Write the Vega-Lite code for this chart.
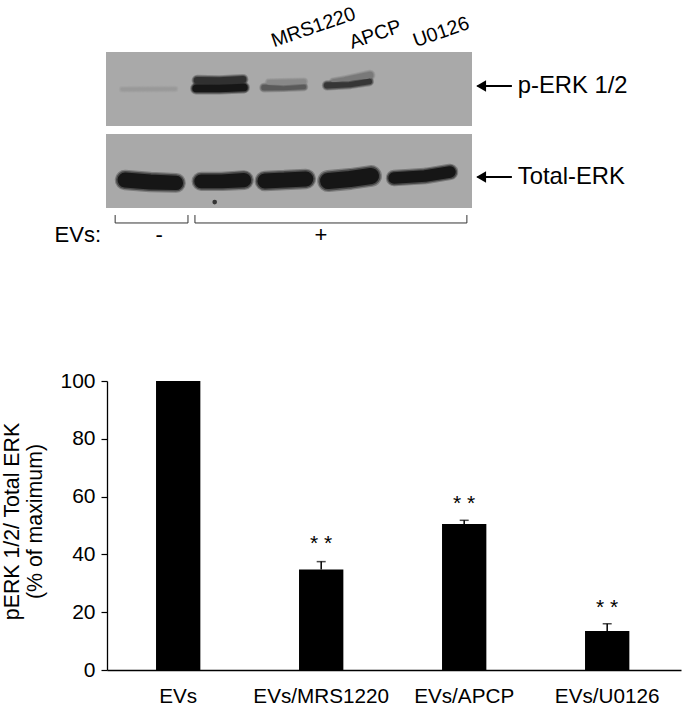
{
"$schema":"https://vega.github.io/schema/vega-lite/v6.json",
"width":683,"height":705,"padding":0,"autosize":{"type":"none"},"background":"white",
"config":{"view":{"stroke":null},"font":"Liberation Sans","text":{"font":"Liberation Sans"}},
"datasets":{
"panels":[{"blot":"p-ERK 1/2","x0":0,"x1":100,"y0":0,"y1":47.4},{"blot":"Total-ERK","x0":0,"x1":100,"y0":52.6,"y1":100}],
"bands":[
{"band":"a","x":4.4,"y":23.9,"thickness":2.5,"density":0.1},{"band":"a","x":18.9,"y":23.7,"thickness":2.5,"density":0.1},
{"band":"b1","x":24.9,"y":18.2,"thickness":6,"density":0.8},{"band":"b1","x":31,"y":18.4,"thickness":6,"density":0.8},{"band":"b1","x":37.4,"y":17.6,"thickness":6,"density":0.8},
{"band":"b2","x":24.6,"y":23.4,"thickness":6.5,"density":1},{"band":"b2","x":31,"y":23.4,"thickness":6.5,"density":1},{"band":"b2","x":37.7,"y":22.8,"thickness":6.5,"density":1},
{"band":"c1","x":44.5,"y":19.5,"thickness":4,"density":0.2},{"band":"c1","x":54.1,"y":19,"thickness":4,"density":0.2},
{"band":"c2","x":43.2,"y":22.8,"thickness":5,"density":0.5},{"band":"c2","x":48.5,"y":23.2,"thickness":3.5,"density":0.5},{"band":"c2","x":54.1,"y":22.4,"thickness":4,"density":0.5},
{"band":"d1","x":62,"y":18.5,"thickness":3,"density":0.3},{"band":"d1","x":65.3,"y":17.2,"thickness":3,"density":0.3},{"band":"d1","x":72.1,"y":14.9,"thickness":6,"density":0.3},
{"band":"d2","x":60.4,"y":21.4,"thickness":5.5,"density":0.75},{"band":"d2","x":66.7,"y":20.9,"thickness":4.5,"density":0.75},{"band":"d2","x":71.9,"y":18.9,"thickness":5,"density":0.75},
{"band":"e","x":5.2,"y":82.1,"thickness":13,"density":1},{"band":"e","x":12,"y":83.3,"thickness":13,"density":1},{"band":"e","x":19.1,"y":83.9,"thickness":12.5,"density":1},
{"band":"f","x":26,"y":82.9,"thickness":12,"density":1},{"band":"f","x":31.7,"y":82.9,"thickness":12,"density":1},{"band":"f","x":37.7,"y":82.1,"thickness":12.5,"density":1},
{"band":"g","x":43.4,"y":82.7,"thickness":13,"density":1},{"band":"g","x":48.9,"y":82.1,"thickness":13,"density":1},{"band":"g","x":54.6,"y":81.4,"thickness":13,"density":1},
{"band":"h","x":60.7,"y":82.7,"thickness":14,"density":1},{"band":"h","x":66.7,"y":81.4,"thickness":14,"density":1},{"band":"h","x":72.4,"y":79.5,"thickness":14,"density":1},
{"band":"i","x":78.7,"y":80.8,"thickness":10,"density":1},{"band":"i","x":87.2,"y":79.5,"thickness":10,"density":1},{"band":"i","x":94,"y":76.9,"thickness":10,"density":1}
],
"brackets":[
{"x":2.5,"x2":22.4,"y":109.6,"y2":109.6},{"x":2.5,"x2":2.5,"y":104.5,"y2":109.6},{"x":22.4,"x2":22.4,"y":104.5,"y2":109.6},
{"x":24.3,"x2":98.6,"y":109.6,"y2":109.6},{"x":24.3,"x2":24.3,"y":104.5,"y2":109.6},{"x":98.6,"x2":98.6,"y":104.5,"y2":109.6}
],
"arrows":[{"x":101.5,"x2":110.9,"y":21.8,"tip":102.5},{"x":101.5,"x2":110.9,"y":80.1,"tip":102.5}],
"speck":[{"x":29.7,"y":96.2}],
"treatments":[{"label":"MRS1220","x":45.9,"y":-3},{"label":"APCP","x":67.2,"y":-1.9},{"label":"U0126","x":84.6,"y":-3}],
"side":[{"label":"p-ERK 1/2","x":112.5,"y":21.8},{"label":"Total-ERK","x":112.5,"y":80.1}],
"evs":[{"label":"EVs:","x":-7.7,"y":117.5},{"label":"-","x":14.5,"y":117.5},{"label":"+","x":58.7,"y":117.5}],
"bars":[
{"group":"EVs","value":100},
{"group":"EVs/MRS1220","value":34.8,"upper":37.5,"stars":"* *","starY":43.5},
{"group":"EVs/APCP","value":50.5,"upper":51.8,"stars":"* *","starY":57.5},
{"group":"EVs/U0126","value":13.5,"upper":16,"stars":"* *","starY":21.5}
]},
"layer":[
{"layer":[
{"data":{"name":"panels"},"mark":{"type":"rect","fill":"#a9a9a9"},
"encoding":{"x":{"field":"x0","type":"quantitative","axis":null,"scale":{"domain":[0,100],"range":[106,472],"nice":false,"zero":false}},"x2":{"field":"x1"},
"y":{"field":"y0","type":"quantitative","axis":null,"scale":{"domain":[0,100],"range":[52,208],"nice":false,"zero":false}},"y2":{"field":"y1"}}},
{"data":{"name":"bands"},"mark":{"type":"trail","opacity":0.3},
"encoding":{"x":{"field":"x","type":"quantitative"},"y":{"field":"y","type":"quantitative"},"detail":{"field":"band"},
"color":{"field":"density","type":"quantitative","legend":null,"scale":{"domain":[0,1],"range":["#a9a9a9","#161616"]}},
"size":{"field":"thickness","type":"quantitative","legend":null,"scale":{"domain":[0,20],"range":[3,30]}}}},
{"data":{"name":"bands"},"mark":{"type":"trail","opacity":0.5},
"encoding":{"x":{"field":"x","type":"quantitative"},"y":{"field":"y","type":"quantitative"},"detail":{"field":"band"},
"color":{"field":"density","type":"quantitative","legend":null,"scale":{"domain":[0,1],"range":["#a9a9a9","#161616"]}},
"size":{"field":"thickness","type":"quantitative","legend":null,"scale":{"domain":[0,20],"range":[1.5,27]}}}},
{"data":{"name":"bands"},"mark":{"type":"trail"},
"encoding":{"x":{"field":"x","type":"quantitative"},"y":{"field":"y","type":"quantitative"},"detail":{"field":"band"},
"color":{"field":"density","type":"quantitative","legend":null,"scale":{"domain":[0,1],"range":["#a9a9a9","#161616"]}},
"size":{"field":"thickness","type":"quantitative","legend":null,"scale":{"domain":[0,20],"range":[0,23]}}}},
{"data":{"name":"speck"},"mark":{"type":"point","filled":true,"color":"#333333","size":22,"opacity":1},
"encoding":{"x":{"field":"x","type":"quantitative"},"y":{"field":"y","type":"quantitative"}}},
{"data":{"name":"brackets"},"mark":{"type":"rule","color":"#333333","strokeWidth":1},
"encoding":{"x":{"field":"x","type":"quantitative"},"x2":{"field":"x2"},"y":{"field":"y","type":"quantitative"},"y2":{"field":"y2"}}},
{"data":{"name":"arrows"},"mark":{"type":"rule","color":"black","strokeWidth":2},
"encoding":{"x":{"field":"x","type":"quantitative"},"x2":{"field":"x2"},"y":{"field":"y","type":"quantitative"}}},
{"data":{"name":"arrows"},"mark":{"type":"point","shape":"triangle-left","filled":true,"color":"black","size":130,"opacity":1},
"encoding":{"x":{"field":"tip","type":"quantitative"},"y":{"field":"y","type":"quantitative"}}},
{"data":{"name":"treatments"},"mark":{"type":"text","align":"left","baseline":"alphabetic","angle":341,"fontSize":19.7,"color":"black"},
"encoding":{"x":{"field":"x","type":"quantitative"},"y":{"field":"y","type":"quantitative"},"text":{"field":"label"}}},
{"data":{"name":"side"},"mark":{"type":"text","align":"left","baseline":"middle","fontSize":23.8,"color":"black"},
"encoding":{"x":{"field":"x","type":"quantitative"},"y":{"field":"y","type":"quantitative"},"text":{"field":"label"}}},
{"data":{"name":"evs"},"mark":{"type":"text","align":"center","baseline":"middle","fontSize":22,"color":"black"},
"encoding":{"x":{"field":"x","type":"quantitative"},"y":{"field":"y","type":"quantitative"},"text":{"field":"label"}}}
],"resolve":{"scale":{"size":"independent"}}},
{"data":{"name":"bars"},"layer":[
{"mark":{"type":"bar","color":"black"},
"encoding":{"x":{"field":"group","type":"nominal","sort":null,"title":null,
"scale":{"range":[107,681],"paddingInner":0.69,"paddingOuter":0.352,"align":0.487},
"axis":{"orient":"bottom","offset":-35,"ticks":false,"labelAngle":0,"labelFontSize":20.7,"labelColor":"black","labelPadding":16,"labelFont":"Liberation Sans","domainColor":"black","domainWidth":1.3}},
"y":{"field":"value","type":"quantitative",
"scale":{"domain":[0,100],"range":[670,381],"nice":false},
"axis":{"orient":"left","offset":-107,"values":[0,20,40,60,80,100],"grid":false,"title":["pERK 1/2/ Total ERK","(% of maximum)"],"titleFontSize":21.3,"titleFontWeight":"normal","titleColor":"black","titleFont":"Liberation Sans","titleLineHeight":23,"titlePadding":14,"titleY":521,"labelFontSize":21,"labelColor":"black","labelFont":"Liberation Sans","labelPadding":6,"tickColor":"black","tickSize":6,"tickWidth":1.2,"domainColor":"black","domainWidth":1.3}}}},
{"mark":{"type":"rule","color":"black","strokeWidth":1.5},
"encoding":{"x":{"field":"group","type":"nominal","sort":null},"y":{"field":"value","type":"quantitative"},"y2":{"field":"upper"}}},
{"mark":{"type":"tick","color":"black","thickness":1.5,"size":9},
"encoding":{"x":{"field":"group","type":"nominal","sort":null},"y":{"field":"upper","type":"quantitative"}}},
{"mark":{"type":"text","fontSize":21,"baseline":"middle","color":"black"},
"encoding":{"x":{"field":"group","type":"nominal","sort":null},"y":{"field":"starY","type":"quantitative"},"text":{"field":"stars"}}}
]}
],
"resolve":{"scale":{"x":"independent","y":"independent"}}
}
